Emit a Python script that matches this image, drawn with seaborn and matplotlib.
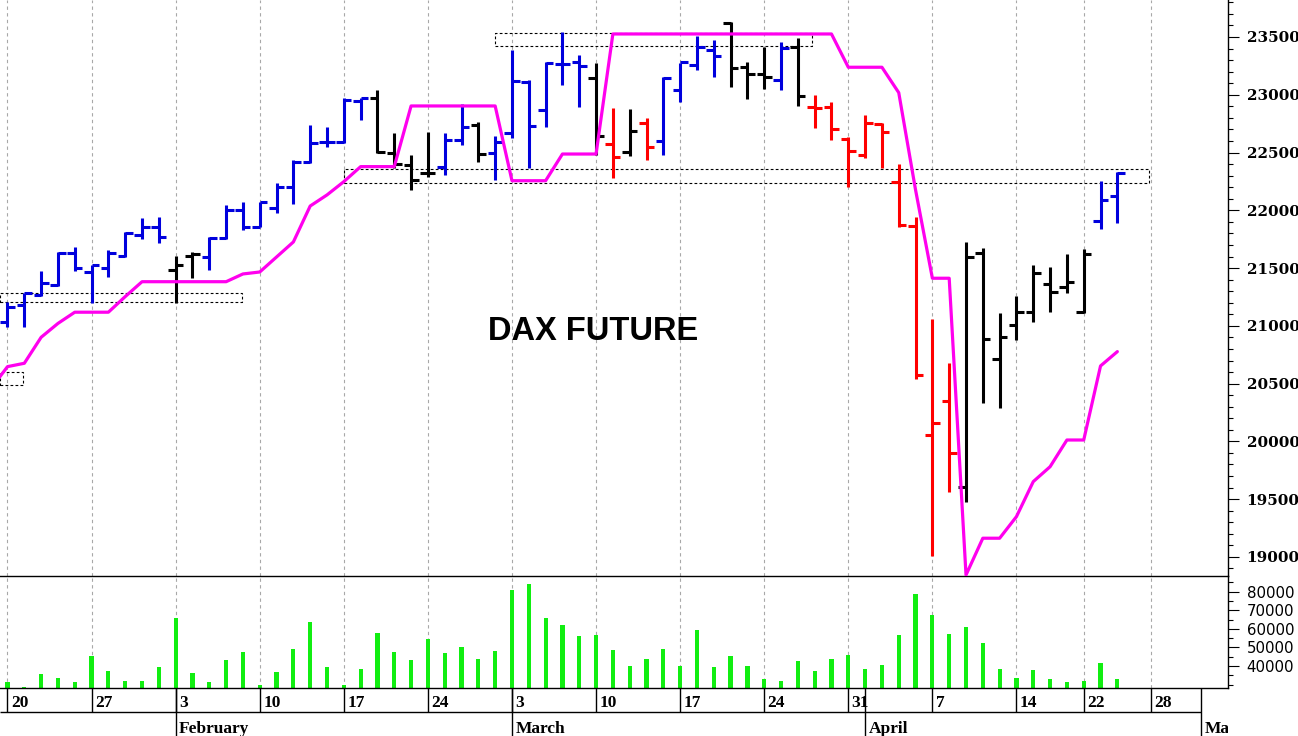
import numpy as np
import matplotlib
matplotlib.use("Agg")
import matplotlib.pyplot as plt
from matplotlib.patches import Rectangle
from matplotlib.ticker import MultipleLocator
import seaborn as sns

# ---------------- data ----------------
day_index = list(range(67))  # trading days from Jan 20 to Apr 24

opens = [21036, 21181, 21267, 21354, 21631, 21469, 21498, 21605, 21787, 21858,
         21483, 21605, 21594, 21763, 22003, 21858, 22018, 22199, 22421, 22591,
         22594, 22946, 22970, 22499, 22392, 22326, 22375, 22609, 22738, 22499,
         22667, 23113, 22868, 23266, 23286, 23148, 22574, 22507, 22758, 22603,
         23041, 23258, 23387, 23624, 23243, 23180, 23128, 23416, 22897, 22892,
         22615, 22479, 22747, 22248, 21867, 20056, 20353, 19603, 21628, 20711,
         21008, 21123, 21362, 21339, 21123, 21910, 22124]
highs = [21209, 21282, 21478, 21642, 21680, 21527, 21657, 21815, 21931, 21940,
         21605, 21642, 21767, 22046, 22075, 22075, 22234, 22436, 22738, 22724,
         22970, 22975, 23041, 22667, 22479, 22680, 22667, 22918, 22767, 22643,
         23387, 23128, 23286, 23546, 23344, 23278, 22883, 22874, 22796, 23151,
         23278, 23509, 23474, 23632, 23286, 23416, 23459, 23494, 22998, 22940,
         22637, 22825, 22758, 22398, 21945, 21057, 20676, 21729, 21677, 21109,
         21259, 21527, 21512, 21622, 21663, 22256, 22329]
lows = [20993, 20988, 21259, 21345, 21478, 21195, 21426, 21599, 21749, 21720,
        21195, 21412, 21484, 21749, 21830, 21853, 21974, 22055, 22407, 22551,
        22580, 22782, 22494, 22364, 22176, 22291, 22306, 22565, 22421, 22262,
        22626, 22364, 22724, 23085, 22897, 22479, 22277, 22470, 22436, 22479,
        22940, 23214, 23151, 23065, 22963, 23047, 23041, 22903, 22710, 22609,
        22204, 22450, 22364, 21858, 20538, 19009, 19565, 19478, 20335, 20287,
        20878, 21036, 21123, 21287, 21114, 21838, 21888]
closes = [21166, 21282, 21369, 21628, 21498, 21527, 21628, 21801, 21858, 21767,
          21527, 21622, 21763, 22003, 21858, 22075, 22199, 22421, 22585, 22594,
          22955, 22972, 22505, 22401, 22262, 22320, 22609, 22724, 22485, 22594,
          23122, 22730, 23278, 23266, 23249, 22643, 22464, 22689, 22551, 23143,
          23286, 23416, 23336, 23234, 23180, 23151, 23402, 22989, 22886, 22701,
          22516, 22753, 22680, 21870, 20575, 20157, 19903, 21594, 20884, 20901,
          21123, 21460, 21296, 21382, 21619, 22089, 22326]
# bar colour state: U = up (blue), N = neutral (black), D = down (red)
trend = (["U"] * 10 + ["N"] * 2 + ["U"] * 10 + ["N"] * 4 + ["U"] * 2 + ["N"]
         + ["U"] * 6 + ["N", "D", "N", "D"] + ["U"] * 4 + ["N"] * 3 + ["U", "N"]
         + ["D"] * 9 + ["N"] * 8 + ["U"] * 2)

volume = [31200, 28950, 35600, 33500, 31200, 45400, 37200, 31750, 31750, 39650,
          65800, 36300, 31200, 43300, 47700, 29650, 37000, 49300, 63500, 39650,
          29800, 38250, 57700, 47700, 43300, 54550, 47200, 50000, 43500, 47900,
          80900, 84000, 65800, 61900, 56100, 56700, 48600, 40200, 43900, 49100,
          40000, 59600, 39500, 45400, 40200, 33000, 31750, 42500, 37200, 43900,
          46000, 38600, 40700, 56800, 78600, 67400, 57000, 61000, 52300, 38600,
          33300, 38100, 32800, 31200, 31750, 41600, 32800]

stop_index = list(range(-1, 67))
stop_line = [20454, 20647, 20676, 20901, 21021, 21118, 21118, 21118, 21253, 21382,
             21382, 21382, 21382, 21382, 21382, 21449, 21466, 21596, 21726, 22037,
             22133, 22248, 22378, 22378, 22378, 22903, 22903, 22903, 22903, 22903,
             22903, 22256, 22256, 22256, 22487, 22487, 22487, 23526, 23526, 23526,
             23526, 23526, 23526, 23526, 23526, 23526, 23526, 23526, 23526, 23526,
             23526, 23238, 23238, 23238, 23018, 22176, 21412, 21412, 18844, 19162,
             19162, 19349, 19652, 19781, 20012, 20012, 20653, 20777]

# dotted gap boxes
box_start = [-0.45, -0.45, 20.0, 28.97]
box_end = [13.92, 0.94, 67.9, 47.86]
box_low = [21204, 20488, 22234, 23422]
box_high = [21282, 20598, 22355, 23532]

week_pos = [0, 5, 10, 15, 20, 25, 30, 35, 40, 45, 50, 55, 60, 64, 68]
week_labels = ["20", "27", "3", "10", "17", "24", "3", "10", "17", "24", "31",
               "7", "14", "22", "28"]
month_pos = [10, 30, 51, 71]
month_labels = ["February", "March", "April", "May"]

price_ticks = [19000, 19500, 20000, 20500, 21000, 21500, 22000, 22500, 23000, 23500]
volume_ticks = [40000, 50000, 60000, 70000, 80000]

# ---------------- style ----------------
sns.set_style("white")
plt.rcParams["font.family"] = ["DejaVu Sans"]
plt.rcParams["axes.edgecolor"] = "black"
plt.rcParams["text.color"] = "black"
plt.rcParams["xtick.color"] = "black"
plt.rcParams["ytick.color"] = "black"
plt.rcParams["axes.labelcolor"] = "black"

W, H = 1298, 736
fig = plt.figure(figsize=(W / 100, H / 100), dpi=100)
right = 1227.5 / W
ax_p = fig.add_axes([0, 1 - 576 / H, right, 576 / H])
ax_v = fig.add_axes([0, 48 / H, right, 112 / H])
ax_d = fig.add_axes([0, 0, right, 48 / H])

xmin, xmax = -0.446, 72.55
palette = {"U": "#0000DD", "N": "#000000", "D": "#FF0000"}
bar_cols = [palette[t] for t in trend]
grid_kw = dict(color="#a8a8a8", lw=0.8, ls=(0, (3, 3)), zorder=0)

# ---------------- price panel ----------------
for w in week_pos:
    ax_p.axvline(w, **grid_kw)

for x0, x1, lo, hi in zip(box_start, box_end, box_low, box_high):
    ax_p.add_patch(Rectangle((x0, lo), x1 - x0, hi - lo, fill=False, ec="black",
                             lw=0.8, ls=(0, (2.5, 2)), zorder=2))

xs = np.array(day_index, dtype=float)
ax_p.vlines(xs, lows, highs, colors=bar_cols, lw=2.2, zorder=3)
ax_p.hlines(opens, xs - 0.45, xs, colors=bar_cols, lw=2.2, zorder=3)
ax_p.hlines(closes, xs, xs + 0.45, colors=bar_cols, lw=2.2, zorder=3)

sns.lineplot(x=stop_index, y=stop_line, color="#FF00EE", lw=2.3, ax=ax_p,
             zorder=4, sort=False)

ax_p.set_xlim(xmin, xmax)
ax_p.set_ylim(18835, 23820)
ax_p.set_xlabel("")
ax_p.set_ylabel("")
ax_p.set_xticks([])
ax_p.yaxis.tick_right()
ax_p.set_yticks(price_ticks, labels=[str(t) for t in price_ticks],
                fontfamily="DejaVu Serif", fontweight="bold", fontsize=11,
                color="black")
ax_p.yaxis.set_minor_locator(MultipleLocator(100))
ax_p.tick_params(axis="y", which="major", direction="out", length=7.7, width=0.8,
                 pad=6, colors="black", right=True, left=False)
ax_p.tick_params(axis="y", which="minor", direction="out", length=3.5, width=0.8,
                 right=True, left=False, colors="black")
for s in ["left", "top"]:
    ax_p.spines[s].set_visible(False)
for s in ["right", "bottom"]:
    ax_p.spines[s].set_linewidth(1.0)
    ax_p.spines[s].set_color("black")
ax_p.patch.set_alpha(0)

fig.text(593 / W, 1 - 331 / H, "DAX FUTURE", ha="center", va="center",
         fontsize=23.5, fontweight="bold", family="Liberation Sans", color="black")

# ---------------- volume panel ----------------
for w in week_pos:
    ax_v.axvline(w, **grid_kw)
sns.barplot(x=day_index, y=volume, native_scale=True, width=0.25, color="#11EE11",
            saturation=1, errorbar=None, linewidth=0, ax=ax_v, zorder=2)
ax_v.set_xlim(xmin, xmax)
ax_v.set_ylim(28150, 88450)
ax_v.set_xlabel("")
ax_v.set_ylabel("")
ax_v.set_xticks([])
ax_v.yaxis.tick_right()
ax_v.set_yticks(volume_ticks, labels=[str(t) for t in volume_ticks],
                fontfamily="DejaVu Sans", fontsize=10.8, color="black")
ax_v.yaxis.set_minor_locator(MultipleLocator(5000))
ax_v.tick_params(axis="y", which="major", direction="out", length=7.7, width=0.8,
                 pad=6, colors="black", right=True, left=False)
ax_v.tick_params(axis="y", which="minor", direction="out", length=3.5, width=0.8,
                 right=True, left=False, colors="black")
for s in ["left", "top"]:
    ax_v.spines[s].set_visible(False)
for s in ["right", "bottom"]:
    ax_v.spines[s].set_linewidth(1.0)
    ax_v.spines[s].set_color("black")
ax_v.patch.set_alpha(0)

# ---------------- date strip ----------------
ax_d.set_xlim(xmin, xmax)
ax_d.set_ylim(0, 48)
ax_d.axis("off")
ax_d.hlines(24, xmin, month_pos[-1], color="black", lw=1.0)
for p, lab in zip(week_pos, week_labels):
    ax_d.vlines(p, 24, 48, color="black", lw=1.0)
    ax_d.text(p + 0.2, 29.3, lab, family="Liberation Serif", fontweight="bold",
              fontsize=12.5, va="baseline", ha="left", color="black")
for p, lab in zip(month_pos, month_labels):
    ax_d.vlines(p, 0, 48, color="black", lw=1.0)
    ax_d.text(p + 0.2, 3.3, lab, family="Liberation Serif", fontweight="bold",
              fontsize=12.5, va="baseline", ha="left", clip_on=True, color="black")

fig.savefig("out.png", dpi=100, facecolor="white")
